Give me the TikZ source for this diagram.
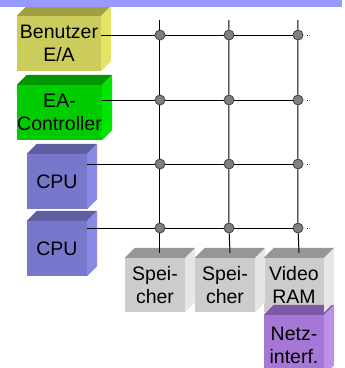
\documentclass[tikz,border=0pt]{standalone}
\usepackage{fontspec}
\setmainfont{Liberation Sans}
\definecolor{bandblue}{RGB}{153,153,255}
\definecolor{userfront}{RGB}{204,204,92}
\definecolor{usertop}{RGB}{160,160,64}
\definecolor{userside}{RGB}{228,228,100}
\definecolor{ctrlfront}{RGB}{0,204,0}
\definecolor{ctrltop}{RGB}{0,150,0}
\definecolor{ctrlside}{RGB}{0,230,0}
\definecolor{cpufront}{RGB}{119,119,204}
\definecolor{cputop}{RGB}{94,94,160}
\definecolor{cpuside}{RGB}{138,138,230}
\definecolor{memfront}{RGB}{204,204,204}
\definecolor{memtop}{RGB}{150,150,150}
\definecolor{memside}{RGB}{230,230,230}
\definecolor{netfront}{RGB}{166,120,214}
\definecolor{nettop}{RGB}{128,88,170}
\definecolor{netside}{RGB}{190,145,232}
\tikzset{
  cube/.style = {inner sep=0, align=center, fill=#1front,
                 minimum width=60pt, minimum height=55pt,
                 font=\fontsize{19.5}{23}\selectfont},
  bus/.style = {line width=1pt, black},
  dot/.style = {circle, draw=black!75, fill=black!50, line width=0.8pt,
                inner sep=0, minimum size=10pt},
}
\begin{document}
\begin{tikzpicture}[x=1pt,y=-1pt]
    \clip (0,0) rectangle (345,368);
    % bausteine
    \node[cube=user, minimum width=84pt] (ben) at (59,43.5) {Benutzer\\E/A};
    \node[cube=ctrl, minimum width=85pt] (eac) at (59.5,112.5) {EA-\\Controller};
    \node[cube=cpu] (cpu1) at (57,181.5) {CPU};
    \node[cube=cpu] (cpu2) at (57,248.5) {CPU};
    \node[cube=net, minimum height=60pt] (netz) at (294,345) {Netz-\\interf.};
    \node[cube=mem, minimum height=54pt] (mem1) at (155,285) {Spei-\\cher};
    \node[cube=mem, minimum height=54pt] (mem2) at (225,285) {Spei-\\cher};
    \node[cube=mem, minimum height=54pt] (vram) at (294,285) {Video\\RAM};
    \foreach \n/\c in {ben/user, eac/ctrl, cpu1/cpu, cpu2/cpu, netz/net,
                       mem1/mem, mem2/mem, vram/mem}{
        \fill[\c top] (\n.north west) -- ++(10,-10)
            -- ([shift={(10,-10)}]\n.north east) -- (\n.north east) -- cycle;
        \fill[\c side] (\n.north east) -- ++(10,-10)
            -- ([shift={(10,-10)}]\n.south east) -- (\n.south east) -- cycle;
    }
    % verbindungsnetz
    \foreach \r/\y in {1/35, 2/100, 3/164, 4/228}{
        \foreach \c/\x in {1/160, 2/229, 3/298}{
            \node[dot] (d\r\c) at (\x,\y) {};
        }
        \coordinate (r\r) at (308,\y);
    }
    \foreach \c/\x in {1/160, 2/229, 3/298}
        \coordinate (t\c) at (\x,20);
    \foreach \r/\n in {1/ben, 2/eac, 3/cpu1, 4/cpu2}
        \draw[bus, shorten <=4pt] (d\r1 -| \n.east) -- (d\r1) -- (d\r2) -- (d\r3) -- (r\r);
    \foreach \c/\m in {1/mem1, 2/mem2, 3/vram}
        \draw[bus] (t\c) -- (d1\c) -- (d2\c) -- (d3\c) -- (d4\c)
            -- ([shift={(5,-5)}]\m.north);
    % kopfleiste
    \fill[bandblue] (0,0) rectangle (342,7);
\end{tikzpicture}
\end{document}
